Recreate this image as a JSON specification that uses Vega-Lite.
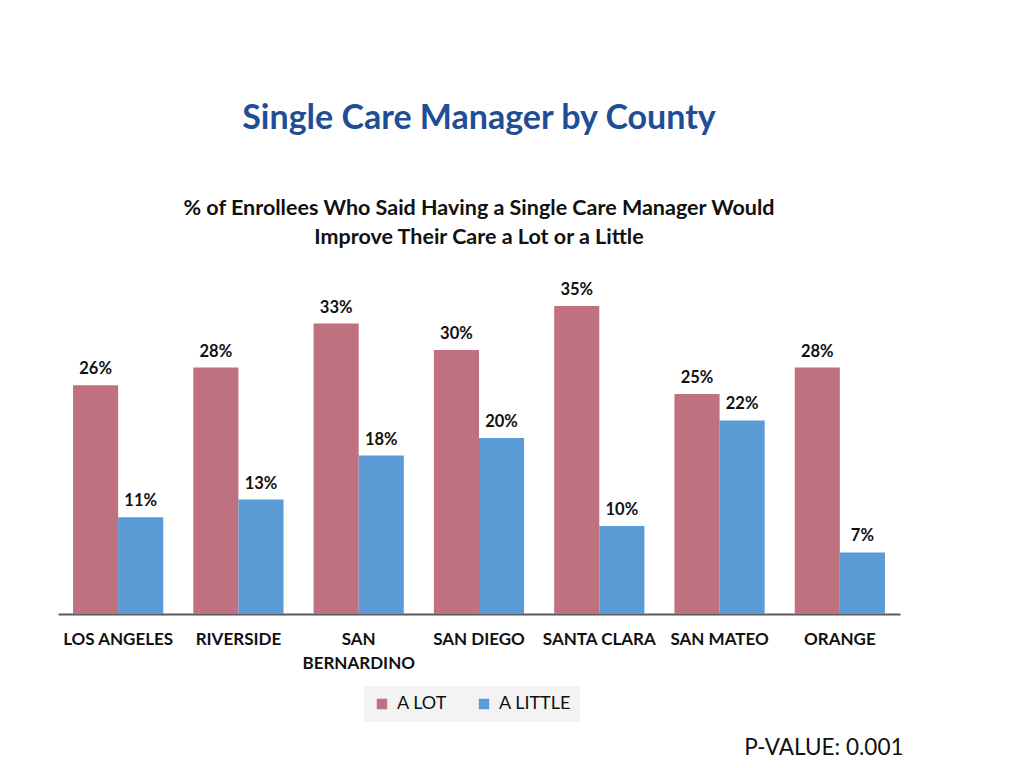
{
  "$schema": "https://vega.github.io/schema/vega-lite/v6.json",
  "width": 842,
  "height": 352,
  "autosize": "none",
  "padding": {"left": 58, "top": 262, "right": 124, "bottom": 154},
  "background": "white",
  "title": {
    "text": "Single Care Manager by County",
    "subtitle": ["% of Enrollees Who Said Having a Single Care Manager Would", "Improve Their Care a Lot or a Little"],
    "anchor": "middle",
    "font": "Lato",
    "fontSize": 34,
    "fontWeight": "bold",
    "color": "#1F4E96",
    "subtitleFont": "Lato",
    "subtitleFontSize": 21.5,
    "subtitleFontWeight": "bold",
    "subtitleColor": "#111111",
    "subtitleLineHeight": 29,
    "subtitlePadding": 62,
    "offset": 14
  },
  "data": {
    "values": [
      {"county": "LOS ANGELES", "response": "A LOT", "pct": 0.26},
      {"county": "LOS ANGELES", "response": "A LITTLE", "pct": 0.11},
      {"county": "RIVERSIDE", "response": "A LOT", "pct": 0.28},
      {"county": "RIVERSIDE", "response": "A LITTLE", "pct": 0.13},
      {"county": "SAN BERNARDINO", "response": "A LOT", "pct": 0.33},
      {"county": "SAN BERNARDINO", "response": "A LITTLE", "pct": 0.18},
      {"county": "SAN DIEGO", "response": "A LOT", "pct": 0.30},
      {"county": "SAN DIEGO", "response": "A LITTLE", "pct": 0.20},
      {"county": "SANTA CLARA", "response": "A LOT", "pct": 0.35},
      {"county": "SANTA CLARA", "response": "A LITTLE", "pct": 0.10},
      {"county": "SAN MATEO", "response": "A LOT", "pct": 0.25},
      {"county": "SAN MATEO", "response": "A LITTLE", "pct": 0.22},
      {"county": "ORANGE", "response": "A LOT", "pct": 0.28},
      {"county": "ORANGE", "response": "A LITTLE", "pct": 0.07}
    ]
  },
  "encoding": {
    "x": {
      "field": "county",
      "type": "nominal",
      "sort": null,
      "scale": {"paddingInner": 0.25, "paddingOuter": 0.125},
      "axis": {
        "title": "P-VALUE: 0.001",
        "titleFont": "Lato",
        "titleFontSize": 22.5,
        "titleFontWeight": "normal",
        "titleColor": "#111111",
        "titleAnchor": "end",
        "titleAlign": "right",
        "titleBaseline": "middle",
        "titleX": 845,
        "titleY": 133,
        "labelAngle": 0,
        "labelFont": "Lato",
        "labelFontSize": 17,
        "labelFontWeight": "bold",
        "labelColor": "#111111",
        "labelPadding": 17,
        "labelLineHeight": 24,
        "labelExpr": "datum.value == 'SAN BERNARDINO' ? ['SAN', 'BERNARDINO'] : datum.value",
        "ticks": false,
        "domainColor": "#595959",
        "domainWidth": 2
      }
    },
    "xOffset": {"field": "response", "type": "nominal", "sort": ["A LOT", "A LITTLE"]},
    "y": {
      "field": "pct",
      "type": "quantitative",
      "scale": {"domain": [0, 0.4]},
      "axis": null
    }
  },
  "layer": [
    {
      "mark": {"type": "bar"},
      "encoding": {
        "color": {
          "field": "response",
          "type": "nominal",
          "sort": ["A LOT", "A LITTLE"],
          "scale": {"domain": ["A LOT", "A LITTLE"], "range": ["#C0717F", "#5B9BD5"]},
          "legend": {
            "title": null,
            "orient": "none",
            "legendX": 306,
            "legendY": 424,
            "direction": "horizontal",
            "symbolType": "square",
            "symbolSize": 110,
            "labelFont": "Lato",
            "labelFontSize": 18,
            "labelColor": "#111111",
            "labelOffset": 6,
            "columnPadding": 28,
            "fillColor": "#F3F3F3",
            "padding": 9
          }
        }
      }
    },
    {
      "mark": {"type": "text", "baseline": "bottom", "dy": -8, "font": "Lato", "fontSize": 16.5, "fontWeight": "bold", "color": "#111111"},
      "encoding": {
        "text": {"field": "pct", "type": "quantitative", "format": ".0%"}
      }
    }
  ],
  "config": {
    "view": {"stroke": null}
  }
}
